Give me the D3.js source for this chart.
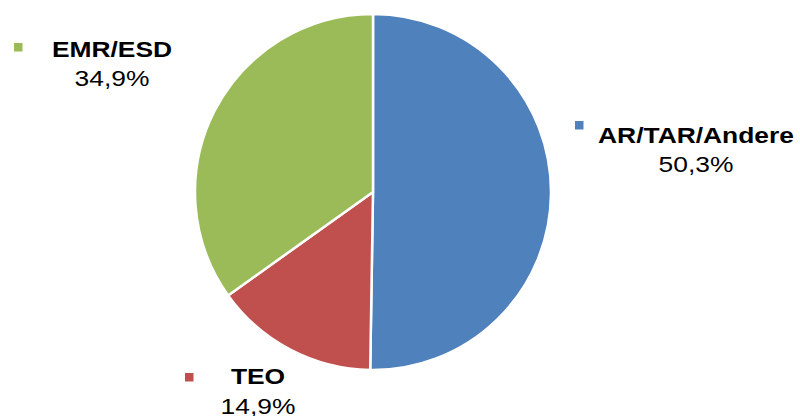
<!DOCTYPE html>
<html>
<head>
<meta charset="utf-8">
<script src="https://cdn.jsdelivr.net/npm/d3@7"></script>
<style>
  html, body { margin: 0; padding: 0; background: #ffffff; }
</style>
</head>
<body>
<div id="chart"></div>
<script>
// Data
const categories = ["AR/TAR/Andere", "TEO", "EMR/ESD"];
const shares = [50.3, 14.9, 34.9];
const shareLabels = ["50,3%", "14,9%", "34,9%"];
const sliceColors = ["#4F81BD", "#C0504D", "#9BBB59"];

function makeChart(containerSelector) {
    const width = 800, height = 416;
    const center = { x: 373, y: 192 };
    const radius = 178;

    const svg = d3.select(containerSelector)
        .append("svg")
        .attr("width", width)
        .attr("height", height);

    svg.append("rect").attr("width", width).attr("height", height).attr("fill", "#ffffff");

    const pie = d3.pie().sort(null).value(d => d.value);
    const arc = d3.arc().innerRadius(0).outerRadius(radius);

    const rows = categories.map((c, i) => ({ name: c, value: shares[i], label: shareLabels[i], color: sliceColors[i] }));

    const pieGroup = svg.append("g").attr("transform", `translate(${center.x},${center.y})`);
    pieGroup.selectAll("path")
        .data(pie(rows))
        .enter()
        .append("path")
        .attr("d", arc)
        .attr("fill", d => d.data.color)
        .attr("stroke", "#ffffff")
        .attr("stroke-width", 2.5)
        .attr("stroke-linejoin", "round");

    // label layout (marker square + bold name + value below)
    const labelLayout = {
        "AR/TAR/Andere": { marker: [575, 121], textX: 696, nameY: 143, valueY: 172 },
        "TEO": { marker: [185, 373], textX: 258, nameY: 384, valueY: 414 },
        "EMR/ESD": { marker: [14, 43], textX: 112, nameY: 57, valueY: 86 }
    };

    const fontFamily = "'Liberation Sans', Arial, sans-serif";
    const stretch = 1.2; // text in the reference is widened horizontally

    rows.forEach(r => {
        const L = labelLayout[r.name];
        svg.append("rect")
            .attr("x", L.marker[0]).attr("y", L.marker[1])
            .attr("width", 8.5).attr("height", 8.5)
            .attr("fill", r.color);

        svg.append("g")
            .attr("transform", `translate(${L.textX},${L.nameY}) scale(${stretch},1)`)
            .append("text")
            .attr("text-anchor", "middle")
            .style("font-family", fontFamily)
            .style("font-size", "22px")
            .style("font-weight", "bold")
            .style("fill", "#000000")
            .text(r.name);

        svg.append("g")
            .attr("transform", `translate(${L.textX},${L.valueY}) scale(${stretch},1)`)
            .append("text")
            .attr("text-anchor", "middle")
            .style("font-family", fontFamily)
            .style("font-size", "22px")
            .style("fill", "#000000")
            .text(r.label);
    });

    return svg.node();
}

makeChart("#chart");
</script>
</body>
</html>
